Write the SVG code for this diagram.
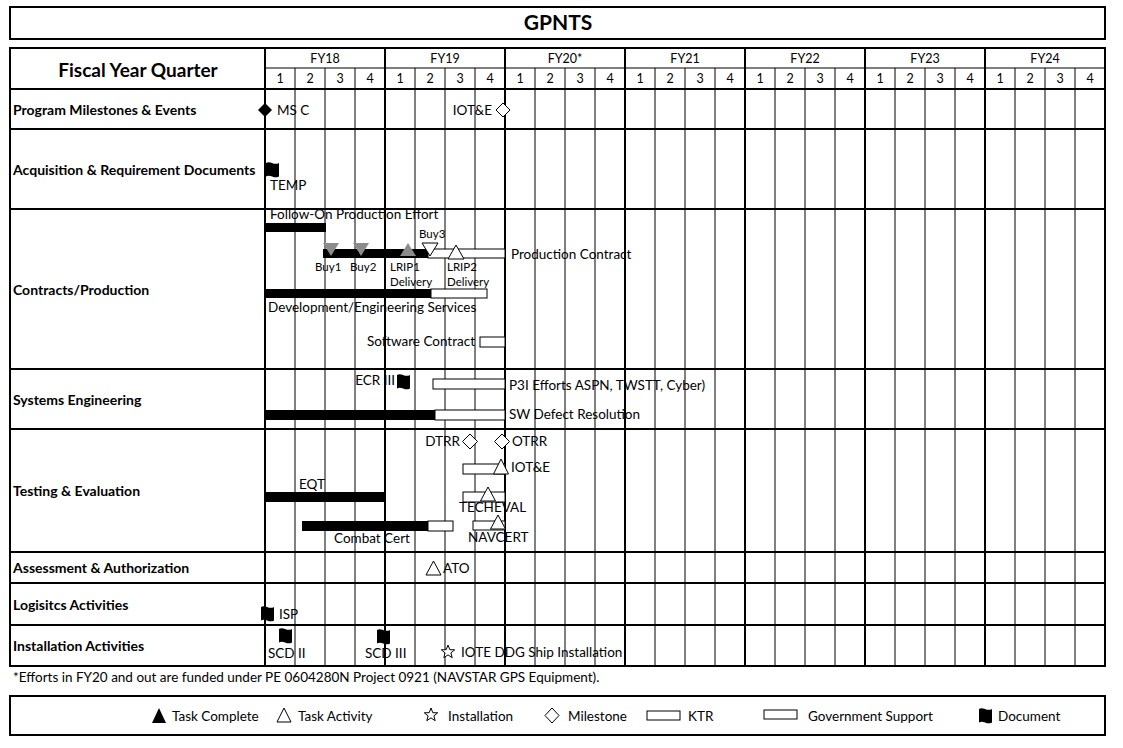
<svg xmlns="http://www.w3.org/2000/svg" width="1123" height="748" viewBox="0 0 1123 748">
<style>
text{font-family:Lato,"Liberation Sans",sans-serif;fill:#000}
.t{font-size:13.5px}
.s{font-size:11.5px}
.b{font-weight:bold;font-size:14px}
.h{font-size:12.5px;text-anchor:middle}
.th{stroke:#000;stroke-width:2;fill:none}
.tn{stroke:#000;stroke-width:1;fill:none}
.blk{fill:#000}
.wht{fill:#fff;stroke:#000;stroke-width:1}
.gry{fill:#8c8c8c}
.lg{font-size:13.5px}
</style>
<defs>
<path id="flag" d="M0,1 C4,-2 8,4 13,1 L13,14.5 C8,17.5 4,11.5 0,14.5 Z" fill="#000"/>
<polygon id="star" points="0,-7 1.8,-2.3 6.7,-2.2 2.9,0.9 4.2,5.7 0,2.9 -4.2,5.7 -2.9,0.9 -6.7,-2.2 -1.8,-2.3" fill="#fff" stroke="#000" stroke-width="1"/>
</defs>
<rect width="1123" height="748" fill="#fff"/>
<g id="title">
<rect x="10" y="7" width="1095" height="32" class="th"/>
<text x="558" y="30" style="font-size:21px;font-weight:bold;text-anchor:middle">GPNTS</text>
</g>
<g id="grid">
<rect x="10" y="48" width="1095" height="618" class="th"/>
<line x1="265" y1="68" x2="1105" y2="68" class="tn"/>
<g class="tn">
<path d="M295,68V666M325,68V666M355,68V666M415,68V666M445,68V666M475,68V666M535,68V666M565,68V666M595,68V666M655,68V666M685,68V666M715,68V666M775,68V666M805,68V666M835,68V666M895,68V666M925,68V666M955,68V666M1015,68V666M1045,68V666M1075,68V666"/>
</g>
<g class="th">
<path d="M265,48V666M385,48V666M505,48V666M625,48V666M745,48V666M865,48V666M985,48V666"/>
<path d="M10,89H1105M10,129H1105M10,209H1105M10,369H1105M10,429H1105M10,552H1105M10,583H1105M10,625H1105"/>
</g>
</g>
<g id="header">
<text x="138" y="77" style="font-size:19px;font-weight:bold;text-anchor:middle">Fiscal Year Quarter</text>
<text class="h" x="325" y="63">FY18</text>
<text class="h" x="445" y="63">FY19</text>
<text class="h" x="565" y="63">FY20*</text>
<text class="h" x="685" y="63">FY21</text>
<text class="h" x="805" y="63">FY22</text>
<text class="h" x="925" y="63">FY23</text>
<text class="h" x="1045" y="63">FY24</text>
<text class="h" x="280" y="83">1</text><text class="h" x="310" y="83">2</text><text class="h" x="340" y="83">3</text><text class="h" x="370" y="83">4</text>
<text class="h" x="400" y="83">1</text><text class="h" x="430" y="83">2</text><text class="h" x="460" y="83">3</text><text class="h" x="490" y="83">4</text>
<text class="h" x="520" y="83">1</text><text class="h" x="550" y="83">2</text><text class="h" x="580" y="83">3</text><text class="h" x="610" y="83">4</text>
<text class="h" x="640" y="83">1</text><text class="h" x="670" y="83">2</text><text class="h" x="700" y="83">3</text><text class="h" x="730" y="83">4</text>
<text class="h" x="760" y="83">1</text><text class="h" x="790" y="83">2</text><text class="h" x="820" y="83">3</text><text class="h" x="850" y="83">4</text>
<text class="h" x="880" y="83">1</text><text class="h" x="910" y="83">2</text><text class="h" x="940" y="83">3</text><text class="h" x="970" y="83">4</text>
<text class="h" x="1000" y="83">1</text><text class="h" x="1030" y="83">2</text><text class="h" x="1060" y="83">3</text><text class="h" x="1090" y="83">4</text>
</g>
<g id="row-labels">
<text class="b" x="13" y="115">Program Milestones &amp; Events</text>
<text class="b" x="13" y="175">Acquisition &amp; Requirement Documents</text>
<text class="b" x="13" y="295">Contracts/Production</text>
<text class="b" x="13" y="405">Systems Engineering</text>
<text class="b" x="13" y="496">Testing &amp; Evaluation</text>
<text class="b" x="13" y="573">Assessment &amp; Authorization</text>
<text class="b" x="13" y="610">Logisitcs Activities</text>
<text class="b" x="13" y="651">Installation Activities</text>
</g>
<g id="milestones">
<polygon points="265,103 272,110 265,117 258,110" class="blk"/>
<text class="t" x="277" y="115">MS C</text>
<text class="t" x="492" y="115" text-anchor="end">IOT&amp;E</text>
<polygon points="503,103 510,110 503,117 496,110" class="wht"/>
</g>
<g id="acquisition">
<use href="#flag" x="266" y="162"/>
<text class="t" x="270" y="190">TEMP</text>
</g>
<g id="contracts">
<text class="t" x="270" y="219">Follow-On Production Effort</text>
<rect x="265" y="223" width="61" height="9" class="blk"/>
<rect x="428" y="249" width="77" height="9" class="wht"/>
<rect x="323" y="249" width="105" height="9" class="blk"/>
<polygon points="323,243 339,243 331,256" class="gry"/>
<polygon points="353,243 369,243 361,256" class="gry"/>
<polygon points="400,256 416,256 408,243" class="gry"/>
<polygon points="422,243 438,243 430,256" class="wht"/>
<polygon points="448,259 464,259 456,245" class="wht"/>
<text class="s" x="419" y="238">Buy3</text>
<text class="s" x="315" y="271">Buy1</text>
<text class="s" x="350" y="271">Buy2</text>
<text class="s" x="390" y="271">LRIP1</text>
<text class="s" x="390" y="286">Delivery</text>
<text class="s" x="447" y="271">LRIP2</text>
<text class="s" x="447" y="286">Delivery</text>
<text class="t" x="511" y="259">Production Contract</text>
<rect x="431" y="289" width="56" height="9" class="wht"/>
<rect x="265" y="289" width="166" height="9" class="blk"/>
<text class="t" x="268" y="312">Development/Engineering Services</text>
<text class="t" x="475" y="346" text-anchor="end">Software Contract</text>
<rect x="480" y="337" width="25" height="10" class="wht"/>
</g>
<g id="systems-engineering">
<text class="t" x="395" y="385" text-anchor="end">ECR III</text>
<use href="#flag" x="397" y="374"/>
<rect x="433" y="379" width="72" height="10" class="wht"/>
<text class="t" x="509" y="390">P3I Efforts ASPN, TWSTT, Cyber)</text>
<rect x="435" y="410" width="70" height="10" class="wht"/>
<rect x="265" y="410" width="170" height="10" class="blk"/>
<text class="t" x="509" y="419">SW Defect Resolution</text>
</g>
<g id="testing">
<text class="t" x="460" y="446" text-anchor="end">DTRR</text>
<polygon points="470,434 477.5,441.5 470,449 462.5,441.5" class="wht"/>
<polygon points="502,434 509.5,441.5 502,449 494.5,441.5" class="wht"/>
<text class="t" x="512" y="446">OTRR</text>
<rect x="463" y="464" width="42" height="10" class="wht"/>
<polygon points="493.5,474 508.5,474 501,459" class="wht"/>
<text class="t" x="511" y="472">IOT&amp;E</text>
<text class="t" x="299" y="489">EQT</text>
<rect x="265" y="492" width="120" height="10" class="blk"/>
<rect x="463" y="492" width="42" height="10" class="wht"/>
<polygon points="480.5,501 495.5,501 488,487" class="wht"/>
<text class="t" x="459" y="512">TECHEVAL</text>
<rect x="428" y="521" width="25" height="10" class="wht"/>
<rect x="302" y="521" width="126" height="10" class="blk"/>
<text class="t" x="334" y="543">Combat Cert</text>
<rect x="473" y="521" width="32" height="9" class="wht"/>
<polygon points="490.5,529 505.5,529 498,515" class="wht"/>
<text class="t" x="468" y="542">NAVCERT</text>
</g>
<g id="assessment">
<polygon points="426,575 441,575 433.5,561" class="wht"/>
<text class="t" x="443" y="573">ATO</text>
</g>
<g id="logistics">
<use href="#flag" x="261" y="606"/>
<text class="t" x="279" y="619">ISP</text>
</g>
<g id="installation">
<use href="#flag" x="279" y="628"/>
<text class="t" x="268" y="658">SCD II</text>
<use href="#flag" x="377" y="629"/>
<text class="t" x="365" y="658">SCD III</text>
<use href="#star" x="448" y="652"/>
<text class="t" x="461" y="657">IOTE DDG Ship Installation</text>
</g>
<g id="footnote">
<text class="t" x="13" y="682">*Efforts in FY20 and out are funded under PE 0604280N Project 0921 (NAVSTAR GPS Equipment).</text>
</g>
<g id="legend">
<rect x="10" y="696" width="1095" height="39" class="th"/>
<polygon points="152,723 166,723 159,708" class="blk"/>
<text class="lg" x="172" y="721">Task Complete</text>
<polygon points="277,722 291,722 284,708" class="wht"/>
<text class="lg" x="298" y="721">Task Activity</text>
<use href="#star" x="431" y="715"/>
<text class="lg" x="448" y="721">Installation</text>
<polygon points="552,708 559,715.5 552,723 545,715.5" class="wht"/>
<text class="lg" x="568" y="721">Milestone</text>
<rect x="647" y="711" width="33" height="9" class="wht"/>
<text class="lg" x="688" y="721">KTR</text>
<rect x="764" y="710" width="33" height="9" class="wht"/>
<text class="lg" x="808" y="721">Government Support</text>
<use href="#flag" x="979" y="708"/>
<text class="lg" x="998" y="721">Document</text>
</g>
</svg>
